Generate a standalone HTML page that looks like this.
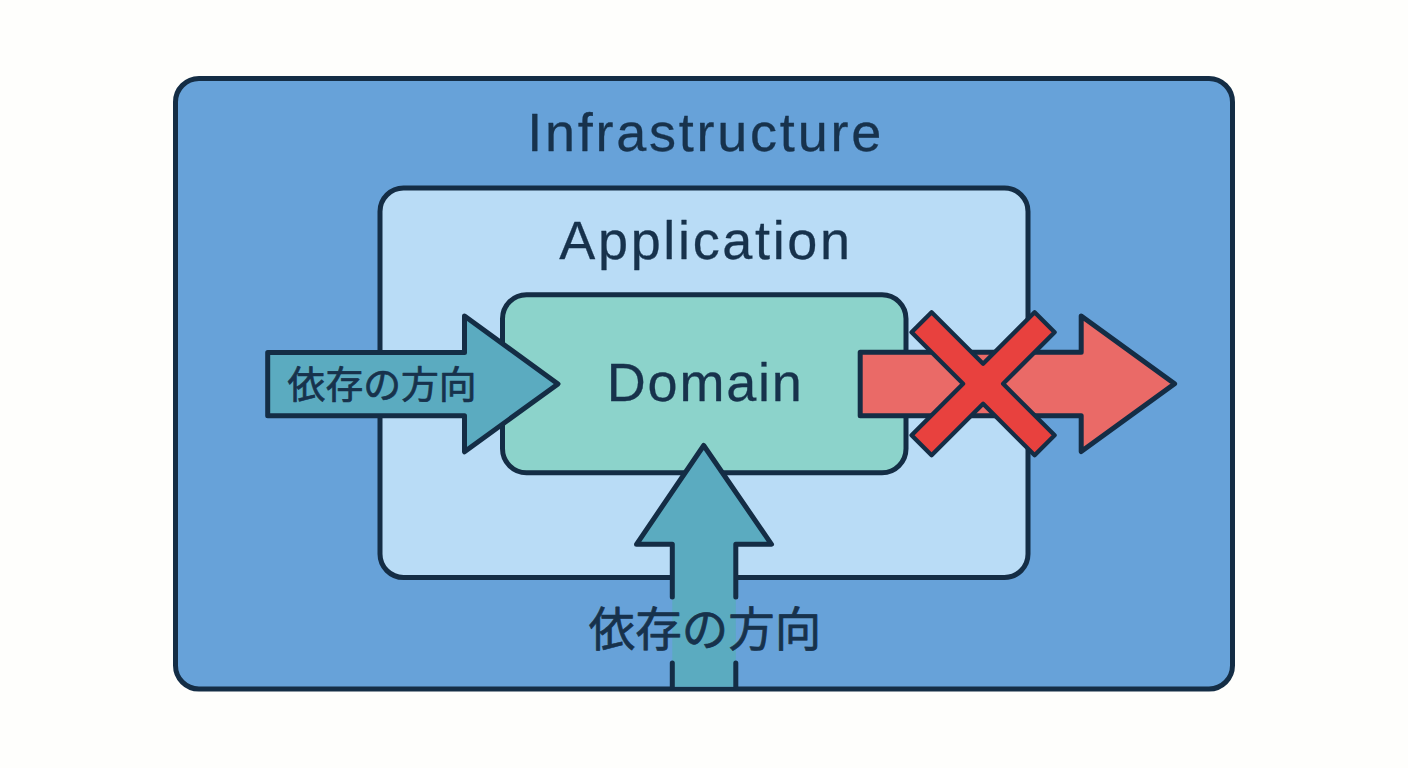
<!DOCTYPE html>
<html lang="ja">
<head>
<meta charset="utf-8">
<title>依存の方向</title>
<style>
  html, body { margin: 0; padding: 0; background: #fefefc; }
  body { width: 1408px; height: 768px; overflow: hidden; }
  svg { display: block; }
  .ln { stroke: #142d45; stroke-width: 5; stroke-linejoin: round; stroke-linecap: round; }
  .lat { font-family: "Liberation Sans", sans-serif; font-size: 54px; fill: #17324c; stroke: #17324c; stroke-width: 0.3; stroke-linejoin: round; text-anchor: middle; }
  .cjk { font-family: "Liberation Sans", "Noto Sans CJK JP", sans-serif; font-weight: 400; fill: #17324c; stroke: #17324c; stroke-width: 0.7; stroke-linejoin: round; text-anchor: middle; }
</style>
</head>
<body>
<svg width="1408" height="768" viewBox="0 0 1408 768">
  <rect x="0" y="0" width="1408" height="768" fill="#fefefc"/>

  <!-- Infrastructure -->
  <rect class="ln" x="175.5" y="78.5" width="1057" height="610.5" rx="23.5" ry="23.5" fill="#67a2d9"/>
  <!-- Application -->
  <rect class="ln" x="380" y="188" width="648" height="389.5" rx="23.5" ry="23.5" fill="#b9dcf6"/>
  <!-- Domain -->
  <rect class="ln" x="502.5" y="294.7" width="403.5" height="178" rx="24" ry="24" fill="#8cd3cb"/>

  <!-- bottom arrow: fill -->
  <path d="M703.7 445.5 L771.5 544.3 L735.8 544.3 L735.8 686.8 L672.3 686.8 L672.3 544.3 L636.5 544.3 Z" fill="#5babc0"/>
  <!-- bottom arrow: outline (broken around label) -->
  <path class="ln" fill="none" d="M672.3 597 L672.3 544.3 L636.5 544.3 L703.7 445.5 L771.5 544.3 L735.8 544.3 L735.8 597"/>
  <path class="ln" fill="none" d="M672.3 663 L672.3 687 M735.8 663 L735.8 687"/>

  <!-- left arrow -->
  <path class="ln" fill="#5babc0" d="M267.7 352.4 L464.5 352.4 L464.5 316 L558 383.9 L464.5 451.8 L464.5 415.8 L267.7 415.8 Z"/>

  <!-- red arrow -->
  <path class="ln" fill="#ea6a67" d="M860.2 352.3 L1081.2 352.3 L1081.2 316 L1174.6 383.8 L1081.2 451.5 L1081.2 415.8 L860.2 415.8 Z"/>
  <!-- X -->
  <path class="ln" style="stroke-width:4.3" fill="#e8413e" transform="translate(983.1 383.8) rotate(45)"
        d="M-87 -14.15 L-14.15 -14.15 L-14.15 -87 L14.15 -87 L14.15 -14.15 L87 -14.15 L87 14.15 L14.15 14.15 L14.15 87 L-14.15 87 L-14.15 14.15 L-87 14.15 Z"/>

  <!-- labels -->
  <text class="lat" x="705.6" y="151" letter-spacing="2.76">Infrastructure</text>
  <text class="lat" x="706" y="259" letter-spacing="2.66">Application</text>
  <text class="lat" x="705.2" y="400.8" letter-spacing="1.8">Domain</text>
  <text class="cjk" x="382.1" y="397.8" font-size="37.8">依存の方向</text>
  <text class="cjk" x="705" y="646.3" font-size="46.5">依存の方向</text>
</svg>
</body>
</html>
